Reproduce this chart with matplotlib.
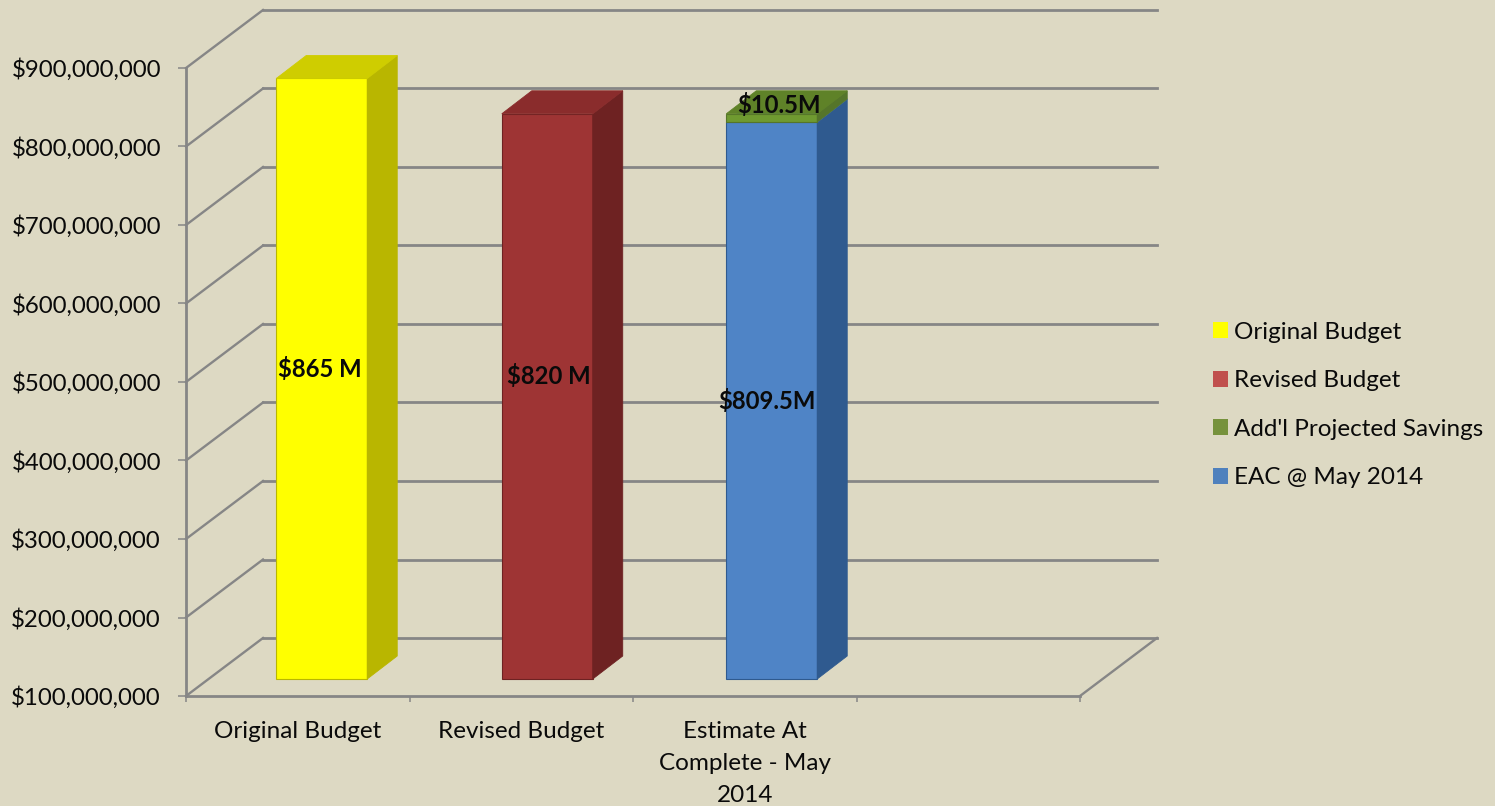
"""Fake 3D stacked column chart: budget vs estimate at complete."""
import matplotlib

matplotlib.use("Agg")
import matplotlib.pyplot as plt
from matplotlib.patches import Patch, Polygon
from matplotlib.transforms import Affine2D, IdentityTransform

W, H = 1495, 806
BG, GRID, INK = "#DDD9C3", "#868686", "#0a0a0a"

categories = ["Original Budget", "Revised Budget", "Estimate At\nComplete - May\n2014"]
tick_values = [100e6, 200e6, 300e6, 400e6, 500e6, 600e6, 700e6, 800e6, 900e6]
original_budget = [865e6, 0, 0]
revised_budget = [0, 820e6, 0]
eac_may_2014 = [0, 0, 809.5e6]
projected_savings = [0, 0, 10.5e6]
legend_names = ["Original Budget", "Revised Budget", "Add'l Projected Savings", "EAC @ May 2014"]
legend_colors = ["#FFFF00", "#C0504D", "#76923C", "#4F81BD"]

plt.rcParams["font.family"] = ["Lato", "DejaVu Sans"]

fig = plt.figure(figsize=(W / 100, H / 100), dpi=100, facecolor=BG)
ax = fig.add_axes([186 / W, (H - 696) / H, 894 / W, 628 / H])
ax.patch.set_visible(False)
ax.set_xlim(0, 4)
ax.set_ylim(100e6, 900e6)

WALL = (77, 58)      # depth of the back wall, pixels
BAR_OFF = (24, 17)   # gap between front plane and bar front
BAR_D = (30, 23)     # depth of a bar
BAR_NUDGE = [0, 2, 3]
BAR_W = 0.407


def px(x, y):
    return ax.transData.transform((x, y))


def shifted(dx, dy):
    return ax.transData + Affine2D().translate(dx, dy)


def poly(points, color, z):
    ax.add_patch(Polygon(points, closed=True, facecolor=color, edgecolor=color, lw=0.6,
                         transform=IdentityTransform(), zorder=z, clip_on=False))


# ---- walls -----------------------------------------------------------------
for v in tick_values:
    ax.plot([0, 4], [v, v], color=GRID, lw=2.0, transform=shifted(*WALL), clip_on=False, zorder=1)
    x0, y0 = px(0, v)
    ax.plot([x0, x0 + WALL[0]], [y0, y0 + WALL[1]], color=GRID, lw=1.7,
            transform=IdentityTransform(), clip_on=False, zorder=1)
x0, y0 = px(4, 100e6)
ax.plot([x0, x0 + WALL[0]], [y0, y0 + WALL[1]], color=GRID, lw=1.7,
        transform=IdentityTransform(), clip_on=False, zorder=1)


# ---- bars ------------------------------------------------------------------
def column(i, low, high, front, side, top, z=3):
    off = (BAR_OFF[0] + BAR_NUDGE[i], BAR_OFF[1])
    xl, xr = i + 0.5 - BAR_W / 2, i + 0.5 + BAR_W / 2
    ax.bar(i + 0.5, high - low, BAR_W, bottom=low, color=front, edgecolor=side, lw=0.8,
           transform=shifted(*off), clip_on=False, zorder=z)
    a = px(xr, low) + off
    b = px(xr, high) + off
    poly([a, b, b + BAR_D, a + BAR_D], side, z)
    c = px(xl, high) + off
    poly([c, b, b + BAR_D, c + BAR_D], top, z + 0.1)


column(0, 100e6, original_budget[0], "#FFFF00", "#B9B600", "#CFCD00")
column(1, 100e6, revised_budget[1], "#9E3434", "#6E2222", "#8A2C2C")
column(2, 100e6, eac_may_2014[2], "#4F84C6", "#2F5A8F", "#4F84C6")
column(2, eac_may_2014[2], eac_may_2014[2] + projected_savings[2], "#6F9A30", "#55752A", "#5F8228", z=3.5)

# ---- axes ------------------------------------------------------------------
for s in ("top", "right"):
    ax.spines[s].set_visible(False)
for s in ("left", "bottom"):
    ax.spines[s].set_color(GRID)
    ax.spines[s].set_linewidth(2.0)

ax.set_yticks(tick_values, [f"${v:,.0f}" for v in tick_values])
ax.tick_params(axis="y", length=6, width=1.1, color=GRID, pad=12, labelsize=17.3, labelcolor=INK)
ax.set_xticks([0, 1, 2, 3, 4], [""] * 5)
ax.tick_params(axis="x", length=4.5, width=1.1, color=GRID)
ax.set_xticks([0.5, 1.5, 2.5], categories, minor=True)
ax.tick_params(axis="x", which="minor", length=0, pad=17.7, labelsize=17.5, labelcolor=INK)
for lab in ax.get_xticklabels(minor=True):
    lab.set_linespacing(1.66)

# ---- data labels (pixel positions, y from the top) ---------------------------
for txt, x, y in [("$865 M", 320, 369), ("$820 M", 549, 376),
                  ("$809.5M", 767, 401), ("$10.5M", 779, 105)]:
    ax.text(x, H - y, txt, transform=IdentityTransform(), ha="center", va="center",
            fontsize=17.2, fontweight="bold", color=INK, zorder=6)

# ---- legend ------------------------------------------------------------------
handles = [Patch(facecolor=c, edgecolor="none") for c in legend_colors]
fig.legend(handles, legend_names, loc="center left", bbox_to_anchor=(1213 / W, (H - 405) / H),
           frameon=False, fontsize=17.5, labelcolor=INK, handlelength=0.62, handleheight=0.62,
           handletextpad=0.25, labelspacing=1.134, borderpad=0, borderaxespad=0)

fig.savefig("out.png", dpi=100, facecolor=BG)
